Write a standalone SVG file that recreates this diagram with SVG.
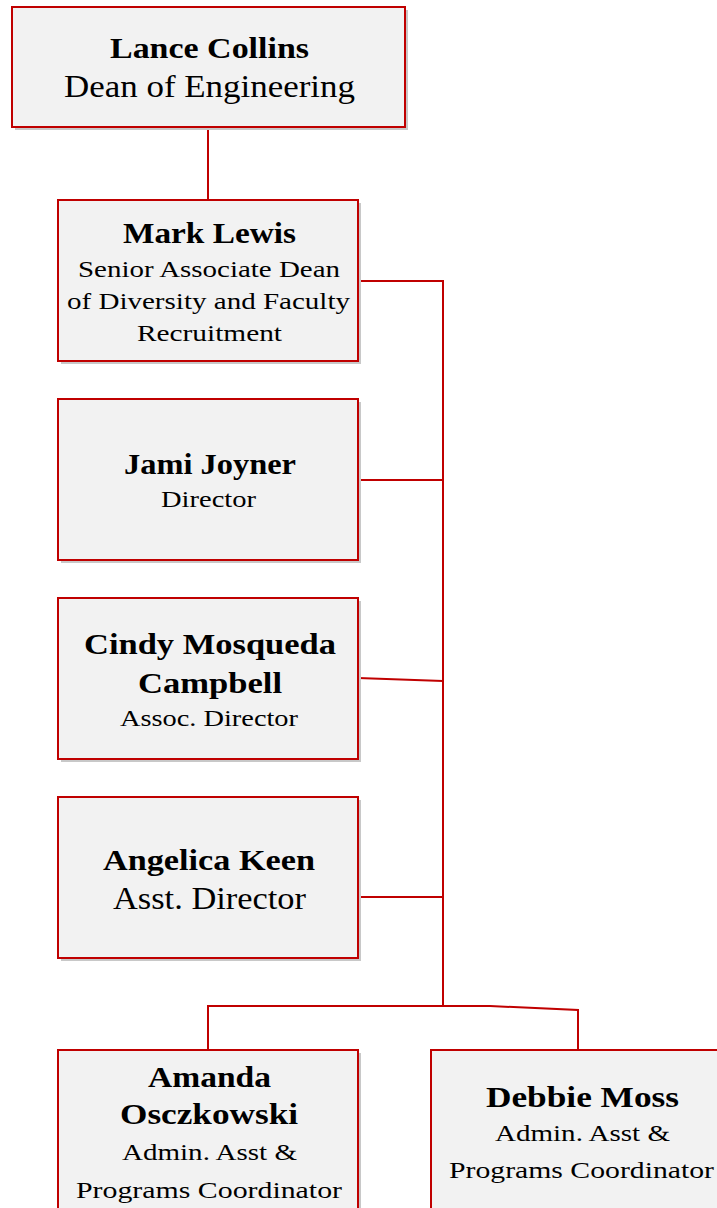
<svg xmlns="http://www.w3.org/2000/svg" width="717" height="1208" viewBox="0 0 717 1208">
<defs>
<style>
.box{fill:#F2F2F2;stroke:#C00000;stroke-width:2}
.sh{fill:#C8C8C8}
.c{fill:none;stroke:#C00000;stroke-width:2}
text{font-family:"Liberation Serif","DejaVu Serif",serif;fill:#000;text-anchor:middle}
.n{font-weight:bold;font-size:30px}
.t{font-size:24px}
.tl{font-size:32px}
</style>
</defs>
<rect width="717" height="1208" fill="#fff"/>
<g id="connectors">
<path class="c" d="M208,127 V200"/>
<path class="c" d="M358,281 H443 V1006"/>
<path class="c" d="M358,480 H443"/>
<path class="c" d="M358,678 L443,681"/>
<path class="c" d="M358,897 H443"/>
<path class="c" d="M208,1050 V1006 H490 L578,1010 V1052"/>
</g>
<g id="lance">
<rect class="sh" x="15" y="10" width="393" height="120"/>
<rect class="box" x="12" y="7" width="393" height="120"/>
<text class="n" x="209.5" y="58" textLength="199" lengthAdjust="spacingAndGlyphs">Lance Collins</text>
<text class="tl" x="209.5" y="97" textLength="291" lengthAdjust="spacingAndGlyphs">Dean of Engineering</text>
</g>
<g id="mark">
<rect class="sh" x="61" y="203" width="300" height="161"/>
<rect class="box" x="58" y="200" width="300" height="161"/>
<text class="n" x="209.5" y="243" textLength="173" lengthAdjust="spacingAndGlyphs">Mark Lewis</text>
<text class="t" x="209" y="277" textLength="262" lengthAdjust="spacingAndGlyphs">Senior Associate Dean</text>
<text class="t" x="208.5" y="309" textLength="283" lengthAdjust="spacingAndGlyphs">of Diversity and Faculty</text>
<text class="t" x="209.5" y="341" textLength="145" lengthAdjust="spacingAndGlyphs">Recruitment</text>
</g>
<g id="jami">
<rect class="sh" x="61" y="402" width="300" height="161"/>
<rect class="box" x="58" y="399" width="300" height="161"/>
<text class="n" x="210" y="474" textLength="172" lengthAdjust="spacingAndGlyphs">Jami Joyner</text>
<text class="t" x="208.5" y="507" textLength="95" lengthAdjust="spacingAndGlyphs">Director</text>
</g>
<g id="cindy">
<rect class="sh" x="61" y="601" width="300" height="161"/>
<rect class="box" x="58" y="598" width="300" height="161"/>
<text class="n" x="210" y="654" textLength="252" lengthAdjust="spacingAndGlyphs">Cindy Mosqueda</text>
<text class="n" x="210" y="693" textLength="144" lengthAdjust="spacingAndGlyphs">Campbell</text>
<text class="t" x="209" y="726" textLength="178" lengthAdjust="spacingAndGlyphs">Assoc. Director</text>
</g>
<g id="angelica">
<rect class="sh" x="61" y="800" width="300" height="161"/>
<rect class="box" x="58" y="797" width="300" height="161"/>
<text class="n" x="209" y="870" textLength="212" lengthAdjust="spacingAndGlyphs">Angelica Keen</text>
<text class="tl" x="209.5" y="909" textLength="193" lengthAdjust="spacingAndGlyphs">Asst. Director</text>
</g>
<g id="amanda">
<rect class="sh" x="61" y="1053" width="300" height="161"/>
<rect class="box" x="58" y="1050" width="300" height="161"/>
<text class="n" x="209.5" y="1087" textLength="123" lengthAdjust="spacingAndGlyphs">Amanda</text>
<text class="n" x="209" y="1124" textLength="178" lengthAdjust="spacingAndGlyphs">Osczkowski</text>
<text class="t" x="209.5" y="1160" textLength="175" lengthAdjust="spacingAndGlyphs">Admin. Asst &amp;</text>
<text class="t" x="209" y="1198" textLength="266" lengthAdjust="spacingAndGlyphs">Programs Coordinator</text>
</g>
<g id="debbie">
<rect class="sh" x="434" y="1053" width="300" height="161"/>
<rect class="box" x="431" y="1050" width="300" height="161"/>
<text class="n" x="582.5" y="1107" textLength="193" lengthAdjust="spacingAndGlyphs">Debbie Moss</text>
<text class="t" x="582.5" y="1141" textLength="175" lengthAdjust="spacingAndGlyphs">Admin. Asst &amp;</text>
<text class="t" x="581.5" y="1178" textLength="265" lengthAdjust="spacingAndGlyphs">Programs Coordinator</text>
</g>
</svg>
